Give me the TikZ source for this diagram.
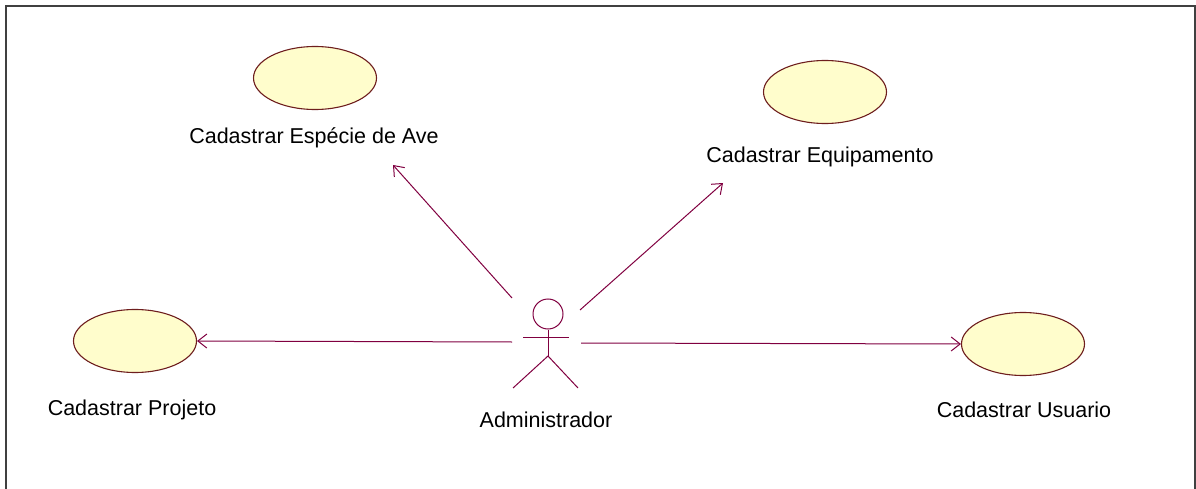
\documentclass[tikz,border=0pt]{standalone}
\usepackage{fontspec}
\setmainfont{Liberation Sans}
\usetikzlibrary{arrows.meta,shapes.geometric}
\definecolor{ln}{RGB}{128,0,64}
\definecolor{ucfill}{RGB}{255,253,204}
\definecolor{ucdraw}{RGB}{110,30,30}
\begin{document}
\begin{tikzpicture}[x=1pt,y=-1pt,
  usecase/.style={ellipse,draw=ucdraw,fill=ucfill,line width=1.1pt,minimum width=123pt,minimum height=63pt,inner sep=0pt},
  lbl/.style={font=\fontsize{21.5}{23}\selectfont,inner sep=0pt,anchor=center},
  conn/.style={draw=ln,line width=1pt,-{Straight Barb[length=9pt,width=14pt,line width=1pt]}},
  actorline/.style={draw=ln,line width=1pt}]
\useasboundingbox (0,0) rectangle (1196,489);
\draw[line width=1.3pt,draw=black!75] (6,489) -- (6,6) -- (1195,6) -- (1195,489);
% use cases
\node[usecase] (ave) at (315,78) {};
\node[lbl] (avel) at (314,138) {Cadastrar Espécie de Ave};
\node[usecase] (equip) at (825,92) {};
\node[lbl] (equipl) at (820,157) {Cadastrar Equipamento};
\node[usecase] (proj) at (135,341) {};
\node[lbl] (projl) at (132,410) {Cadastrar Projeto};
\node[usecase] (usu) at (1023,344) {};
\node[lbl] (usul) at (1024,410) {Cadastrar Usuario};
% actor
\node[circle,draw=ln,line width=1pt,minimum size=30pt,inner sep=0pt] (head) at (548,314) {};
\coordinate (hip) at (548,356);
\coordinate (armL) at (523,337);
\coordinate (armR) at (569,337);
\coordinate (legL) at (513,388);
\coordinate (legR) at (578,388);
\draw[actorline] (head.south) -- (hip);
\draw[actorline] (armL) -- (armR);
\draw[actorline] (legL) -- (hip) -- (legR);
\node[lbl] (adm) at (546,420) {Administrador};
% connector origins
\coordinate (oL) at (512,342);
\coordinate (oR) at (581,343);
\coordinate (oTL) at (512,298);
\coordinate (oTR) at (580,310);
\coordinate (tTL) at (393,165);
\coordinate (tTR) at (723,183);
\draw[conn] (oL) -- (proj.east);
\draw[conn] (oR) -- (usu.west);
\draw[conn] (oTL) -- (tTL);
\draw[conn] (oTR) -- (tTR);
\end{tikzpicture}
\end{document}
